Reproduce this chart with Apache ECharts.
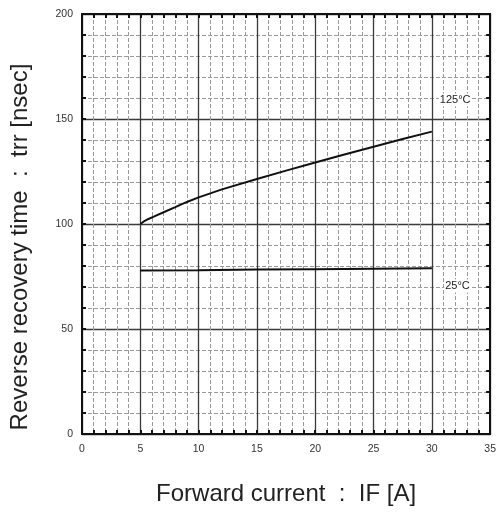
<!DOCTYPE html>
<html><head><meta charset="utf-8">
<script src="https://cdn.jsdelivr.net/npm/echarts@6/dist/echarts.min.js"></script>
<style>html,body{margin:0;padding:0;background:#fff}#c{width:499px;height:516px}</style>
</head><body><div id="c"></div>
<script>
var current125 = [5, 5.3, 5.7, 6.2, 7, 8, 9, 10, 12, 15, 17.5, 20, 22.5, 25, 27.5, 30];
var trr125 = [100, 101.2, 102.4, 103.6, 105.6, 108, 110.5, 112.7, 116.5, 121.4, 125.4, 129.3, 133.1, 136.8, 140.5, 144];
var current25 = [5, 10, 15, 20, 25, 30];
var trr25 = [77.8, 78, 78.3, 78.5, 78.7, 78.9];
var xTicks = [0, 5, 10, 15, 20, 25, 30, 35];
var yTicks = [0, 50, 100, 150, 200];
var curveLabels = ['125°C', '25°C'];
var labelPos = [[32.0, 159], [32.2, 70.5]];
var xName = 'Forward current  :  IF [A]';
var yName = 'Reverse recovery time  :  trr [nsec]';

var chart = echarts.init(document.getElementById('c'), null, {renderer: 'canvas'});
var font = '"Liberation Sans", Arial, sans-serif';
function pair(xs, ys){ return xs.map(function(x,i){return [x, ys[i]];}); }
var major = {show: true, lineStyle: {color: '#3a3a3a', width: 1.3, type: 'solid'}};
var minor = {show: true, lineStyle: {color: '#9a9a9a', width: 1, type: [4, 2]}};
var tick = {show: true, inside: true, length: 4, lineStyle: {color: '#111', width: 2}};
var mtick = {show: true, splitNumber: 5, length: 4, lineStyle: {color: '#111', width: 2}};
var line = {show: true, onZero: false, lineStyle: {color: '#111', width: 2}};
var lbl = {color: '#333', fontSize: 10.5, fontFamily: font};

chart.setOption({
  animation: false,
  grid: {left: 82, top: 14, right: 6, bottom: 82, containLabel: false},
  graphic: [{
    type: 'text', x: 20, y: 247, rotation: Math.PI / 2,
    style: {text: yName, font: '24px ' + font, fill: '#222', textAlign: 'center', textVerticalAlign: 'middle'}
  }],
  xAxis: [{
    type: 'value', min: xTicks[0], max: xTicks[xTicks.length-1], interval: 5,
    axisLine: line, axisTick: tick, minorTick: mtick,
    splitLine: major, minorSplitLine: minor,
    axisLabel: Object.assign({margin: 10, showMaxLabel: true}, lbl),
    name: xName, nameLocation: 'middle', nameGap: 48,
    nameTextStyle: {fontSize: 24, color: '#222', fontFamily: font, verticalAlign: 'top'}
  }, {
    type: 'value', position: 'top', min: 0, max: 35, interval: 5,
    axisLine: line, axisTick: tick, minorTick: mtick,
    splitLine: {show: false}, axisLabel: {show: false}
  }],
  yAxis: [{
    type: 'value', min: yTicks[0], max: yTicks[yTicks.length-1], interval: 50,
    axisLine: line, axisTick: tick, minorTick: mtick,
    splitLine: major, minorSplitLine: minor,
    axisLabel: Object.assign({margin: 9}, lbl)
  }, {
    type: 'value', position: 'right', min: 0, max: 200, interval: 50,
    axisLine: line, axisTick: tick, minorTick: mtick,
    splitLine: {show: false}, axisLabel: {show: false}
  }],
  series: [{
    type: 'line', data: pair(current125, trr125), smooth: false, showSymbol: false,
    lineStyle: {color: '#111', width: 2}, z: 5,
    markPoint: {symbol: 'rect', symbolSize: [1,1], itemStyle: {color: 'rgba(0,0,0,0)'},
      label: {show: true, formatter: curveLabels[0], color: '#222', fontSize: 11, fontFamily: font, backgroundColor: '#fff', padding: [1,1]},
      data: [{coord: labelPos[0]}]}
  }, {
    type: 'line', data: pair(current25, trr25), showSymbol: false,
    lineStyle: {color: '#111', width: 2}, z: 5,
    markPoint: {symbol: 'rect', symbolSize: [1,1], itemStyle: {color: 'rgba(0,0,0,0)'},
      label: {show: true, formatter: curveLabels[1], color: '#222', fontSize: 11, fontFamily: font, backgroundColor: '#fff', padding: [1,1]},
      data: [{coord: labelPos[1]}]}
  }]
});
</script></body></html>
